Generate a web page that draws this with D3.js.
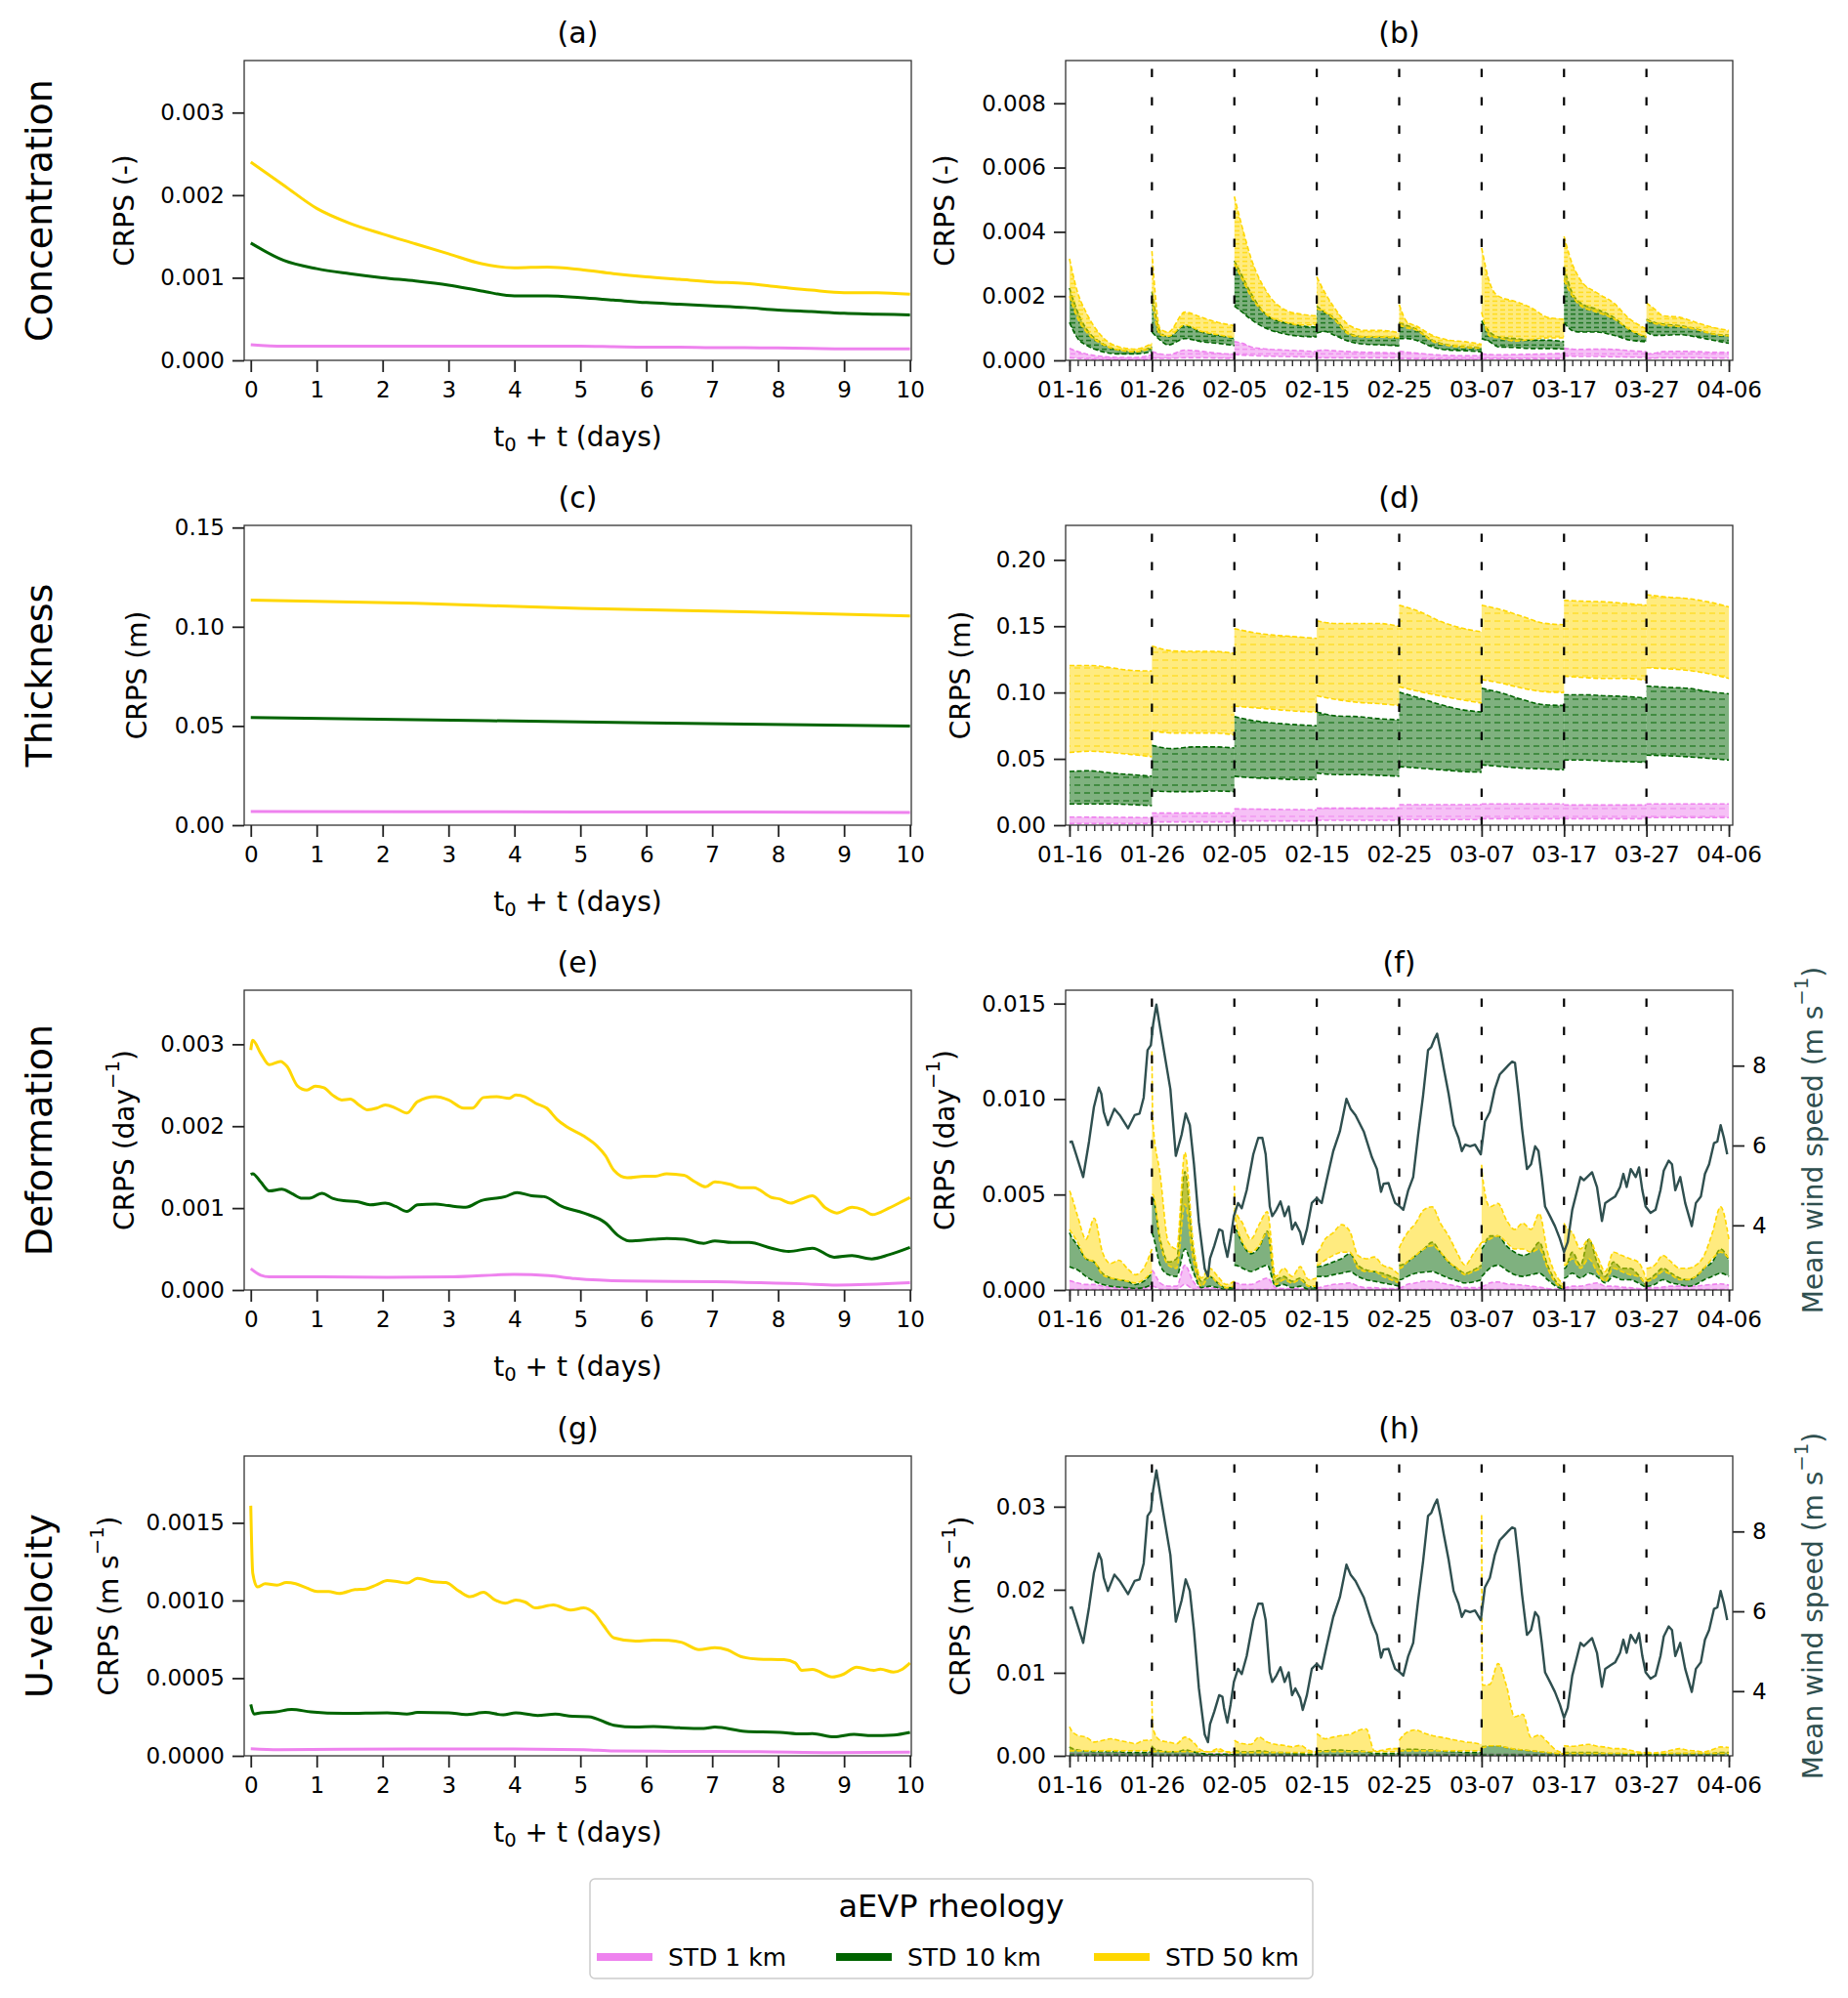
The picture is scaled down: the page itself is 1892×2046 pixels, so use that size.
<!DOCTYPE html>
<html>
<head>
<meta charset="utf-8">
<script src="https://cdn.jsdelivr.net/npm/d3@7"></script>
<style>
  body { margin: 0; background: #fff; }
  text { font-family: "DejaVu Sans", sans-serif; }
</style>
</head>
<body>
<svg id="fig" width="1892" height="2046"></svg>
<script>
// ---------- data ----------
var seriesNames = ["STD 1 km", "STD 10 km", "STD 50 km"];
var dayTicks = [0, 1, 2, 3, 4, 5, 6, 7, 8, 9, 10];
var dateLabels = ["01-16", "01-26", "02-05", "02-15", "02-25", "03-07", "03-17", "03-27", "04-06"];
var dateTickDays = [0, 10, 20, 30, 40, 50, 60, 70, 80];
var windowStarts = [0, 10, 20, 30, 40, 50, 60, 70];
var forecastStarts = [10, 20, 30, 40, 50, 60, 70];

// (a) concentration, mean CRPS vs lead time
var aDays = [0, 0.5, 1, 1.5, 2, 2.5, 3, 3.5, 4, 4.5, 5, 5.5, 6, 6.5, 7, 7.5, 8, 8.5, 9, 9.5, 10];
var aPink = [0.00019, 0.00017, 0.00017, 0.00017, 0.00017, 0.00017, 0.00017, 0.00017, 0.00017, 0.00017, 0.00017,
             0.000165, 0.00016, 0.00016, 0.000155, 0.000155, 0.00015, 0.000145, 0.00014, 0.00014, 0.00014];
var aGreen = [0.00142, 0.00121, 0.00111, 0.00105, 0.001, 0.00096, 0.00091, 0.00084, 0.00078, 0.00078, 0.00076,
              0.00073, 0.0007, 0.00068, 0.00066, 0.00064, 0.00061, 0.00059, 0.00057, 0.00056, 0.00055];
var aYellow = [0.0024, 0.00212, 0.00184, 0.00166, 0.00153, 0.00141, 0.00129, 0.00117, 0.00112, 0.00113, 0.0011,
               0.00105, 0.00101, 0.00098, 0.00095, 0.00093, 0.00089, 0.00085, 0.00082, 0.00082, 0.0008];

// (c) thickness
var cDays = [0, 2.5, 5, 7.5, 10];
var cPink = [0.0069, 0.0068, 0.0067, 0.0066, 0.0064];
var cGreen = [0.0543, 0.0532, 0.052, 0.051, 0.05];
var cYellow = [0.1134, 0.1118, 0.1093, 0.1075, 0.1055];

// (e) deformation
var eYellowT = [0, 0.03, 0.15, 0.28, 0.45, 0.55, 0.71, 0.85, 0.98, 1.11, 1.24, 1.38, 1.51, 1.64, 1.77, 1.91, 2.04, 2.20, 2.37, 2.53,
                2.80, 3.00, 3.23, 3.36, 3.53, 3.73, 3.92, 4.02, 4.16, 4.32, 4.49, 4.65, 4.78, 5.05, 5.25, 5.38, 5.51, 5.71, 5.98, 6.14,
                6.31, 6.57, 6.74, 6.90, 7.04, 7.27, 7.43, 7.63, 7.90, 8.03, 8.19, 8.36, 8.52, 8.72, 8.89, 9.12, 9.29, 9.43, 9.68, 9.88, 10];
var eYellow = [2.93e-3, 3.05e-3, 2.89e-3, 2.75e-3, 2.79e-3, 2.73e-3, 2.49e-3, 2.44e-3, 2.49e-3, 2.47e-3,
               2.38e-3, 2.32e-3, 2.33e-3, 2.26e-3, 2.20e-3, 2.22e-3, 2.26e-3, 2.22e-3, 2.16e-3, 2.30e-3,
               2.36e-3, 2.32e-3, 2.22e-3, 2.22e-3, 2.35e-3, 2.36e-3, 2.34e-3, 2.38e-3, 2.36e-3, 2.28e-3,
               2.22e-3, 2.08e-3, 2.00e-3, 1.88e-3, 1.76e-3, 1.64e-3, 1.46e-3, 1.37e-3, 1.39e-3, 1.39e-3,
               1.42e-3, 1.40e-3, 1.32e-3, 1.26e-3, 1.32e-3, 1.29e-3, 1.25e-3, 1.25e-3, 1.13e-3, 1.11e-3,
               1.06e-3, 1.11e-3, 1.15e-3, 1.00e-3, 0.94e-3, 1.01e-3, 0.98e-3, 0.92e-3, 1.00e-3, 1.08e-3, 1.13e-3];
var eGreenT = [0, 0.03, 0.15, 0.28, 0.47, 0.62, 0.78, 0.89, 1.08, 1.24, 1.41, 1.61, 1.81, 2.04, 2.20, 2.37, 2.53, 2.80, 3.00, 3.26,
               3.49, 3.86, 4.04, 4.26, 4.45, 4.72, 5.05, 5.38, 5.58, 5.74, 6.11, 6.31, 6.57, 6.87, 7.04, 7.30, 7.56, 7.90, 8.16, 8.52,
               8.85, 9.12, 9.42, 9.68, 10];
var eGreen = [1.41e-3, 1.42e-3, 1.32e-3, 1.21e-3, 1.23e-3, 1.18e-3, 1.12e-3, 1.12e-3, 1.18e-3, 1.12e-3,
              1.09e-3, 1.08e-3, 1.04e-3, 1.06e-3, 1.02e-3, 0.96e-3, 1.04e-3, 1.05e-3, 1.03e-3, 1.01e-3,
              1.09e-3, 1.14e-3, 1.19e-3, 1.15e-3, 1.14e-3, 1.02e-3, 0.94e-3, 0.82e-3, 0.66e-3, 0.60e-3,
              0.62e-3, 0.63e-3, 0.62e-3, 0.57e-3, 0.60e-3, 0.58e-3, 0.58e-3, 0.51e-3, 0.47e-3, 0.51e-3,
              0.40e-3, 0.42e-3, 0.38e-3, 0.43e-3, 0.52e-3];
var ePinkT = [0, 0.15, 0.28, 1.08, 2.07, 3.06, 3.99, 4.52, 4.92, 5.71, 7.04, 8.36, 8.89, 10];
var ePink = [0.26e-3, 0.18e-3, 0.16e-3, 0.16e-3, 0.155e-3, 0.16e-3, 0.19e-3, 0.175e-3, 0.14e-3, 0.11e-3, 0.10e-3, 0.076e-3, 0.06e-3, 0.088e-3];

// (g) u-velocity
var gYellowT = [0, 0.03, 0.10, 0.22, 0.40, 0.54, 0.68, 0.85, 1.01, 1.18, 1.34, 1.58, 1.74, 1.91, 2.07, 2.24, 2.37, 2.53, 2.77, 2.96,
                3.16, 3.33, 3.53, 3.69, 3.86, 4.02, 4.16, 4.32, 4.59, 4.85, 5.05, 5.22, 5.35, 5.51, 5.84, 6.11, 6.34, 6.54, 6.80, 7.04,
                7.23, 7.43, 7.70, 8.09, 8.26, 8.36, 8.52, 8.82, 8.99, 9.19, 9.45, 9.55, 9.75, 9.88, 10];
var gYellow = [16.1e-4, 11.75e-4, 10.87e-4, 11.08e-4, 10.99e-4, 11.16e-4, 11.08e-4, 10.8e-4, 10.57e-4, 10.57e-4,
               10.45e-4, 10.7e-4, 10.74e-4, 11.01e-4, 11.29e-4, 11.2e-4, 11.12e-4, 11.43e-4, 11.2e-4, 11.16e-4,
               10.6e-4, 10.24e-4, 10.53e-4, 10.07e-4, 9.82e-4, 10.03e-4, 9.9e-4, 9.52e-4, 9.71e-4, 9.38e-4,
               9.52e-4, 9.13e-4, 8.39e-4, 7.59e-4, 7.38e-4, 7.45e-4, 7.43e-4, 7.3e-4, 6.84e-4, 6.97e-4,
               6.82e-4, 6.4e-4, 6.23e-4, 6.19e-4, 5.98e-4, 5.5e-4, 5.56e-4, 5.08e-4, 5.25e-4, 5.71e-4,
               5.5e-4, 5.58e-4, 5.39e-4, 5.56e-4, 5.98e-4];
var gGreenT = [0, 0.05, 0.15, 0.38, 0.62, 0.91, 1.41, 2.07, 2.37, 2.53, 3.0, 3.26, 3.56, 3.83, 4.02, 4.35, 4.62, 4.88, 5.12, 5.51,
               5.84, 6.11, 6.51, 6.87, 7.04, 7.5, 8.03, 8.36, 8.52, 8.85, 9.15, 9.42, 9.75, 10];
var gGreen = [3.31e-4, 2.69e-4, 2.77e-4, 2.83e-4, 2.98e-4, 2.83e-4, 2.73e-4, 2.77e-4, 2.69e-4, 2.79e-4,
              2.77e-4, 2.66e-4, 2.79e-4, 2.64e-4, 2.77e-4, 2.6e-4, 2.69e-4, 2.54e-4, 2.52e-4, 1.97e-4,
              1.85e-4, 1.89e-4, 1.8e-4, 1.76e-4, 1.85e-4, 1.57e-4, 1.51e-4, 1.41e-4, 1.43e-4, 1.22e-4,
              1.38e-4, 1.3e-4, 1.34e-4, 1.51e-4];
var gPinkT = [0, 0.42, 2.40, 3.99, 5.05, 5.51, 6.37, 7.70, 8.82, 10];
var gPink = [0.46e-4, 0.40e-4, 0.44e-4, 0.44e-4, 0.40e-4, 0.31e-4, 0.29e-4, 0.27e-4, 0.21e-4, 0.23e-4];

// (b) concentration per forecast window: envelopes of the ensemble of forecasts
var bOffsets = [0, 1, 2, 4, 6, 8, 10];
var bPinkHi = [[0.00037, 0.00027, 0.0002, 0.00012, 0.00009, 0.00009, 0.00017],
               [0.00027, 0.0002, 0.00017, 0.00032, 0.00028, 0.00022, 0.00019],
               [0.00058, 0.00053, 0.00042, 0.00035, 0.00032, 0.0003, 0.00027],
               [0.0003, 0.00032, 0.0003, 0.00027, 0.00025, 0.00024, 0.00022],
               [0.00028, 0.00025, 0.00023, 0.00018, 0.00015, 0.00014, 0.00015],
               [0.0002, 0.00018, 0.00017, 0.00018, 0.00019, 0.0002, 0.00022],
               [0.00038, 0.00035, 0.00034, 0.00035, 0.00034, 0.0003, 0.00027],
               [0.0002, 0.00022, 0.00027, 0.00028, 0.00027, 0.00025, 0.00025]];
var bPinkLo = [[0.00008, 0.00006, 0.00004, 0.00003, 0.00002, 0.00002, 0.00004],
               [0.00008, 0.00006, 0.00006, 0.00008, 0.00008, 0.00007, 0.00006],
               [0.00018, 0.00016, 0.00015, 0.00013, 0.00012, 0.00011, 0.0001],
               0.00008,
               [0.00006, 0.00005, 0.00004, 0.00004, 0.00003, 0.00003, 0.00003],
               0.00005,
               [0.00014, 0.00013, 0.00012, 0.00012, 0.00011, 0.0001, 0.00009],
               [0.00006, 0.00007, 0.00008, 0.00008, 0.00008, 0.00007, 0.00007]];
var bGreenHi = [[0.00225, 0.0015, 0.001, 0.00053, 0.00032, 0.00027, 0.00042],
                [0.00214, 0.00088, 0.00073, 0.00108, 0.00088, 0.00078, 0.00068],
                [0.0031, 0.0026, 0.0021, 0.00139, 0.00118, 0.00108, 0.00103],
                [0.00169, 0.00149, 0.00134, 0.00083, 0.00073, 0.00073, 0.00068],
                [0.00118, 0.00108, 0.00098, 0.00063, 0.00048, 0.00042, 0.0004],
                [0.00123, 0.00088, 0.00073, 0.00068, 0.00063, 0.00063, 0.00058],
                [0.0029, 0.0021, 0.00179, 0.00159, 0.00134, 0.00093, 0.00073],
                [0.00128, 0.00118, 0.00113, 0.00108, 0.00098, 0.00083, 0.00078]];
var bGreenLo = [[0.00118, 0.00068, 0.00048, 0.00027, 0.0002, 0.0002, 0.00027],
                [0.00088, 0.00063, 0.00048, 0.00068, 0.00058, 0.00053, 0.00046],
                [0.00169, 0.00149, 0.00128, 0.00098, 0.00083, 0.00075, 0.00073],
                [0.00085, 0.0009, 0.0008, 0.00058, 0.0005, 0.00048, 0.00045],
                [0.00068, 0.00068, 0.00063, 0.00042, 0.00032, 0.0003, 0.00027],
                [0.00068, 0.00058, 0.00042, 0.0004, 0.00037, 0.00037, 0.00035],
                [0.00118, 0.00093, 0.00088, 0.00088, 0.00078, 0.00063, 0.00058],
                [0.00088, 0.00078, 0.00078, 0.0008, 0.00073, 0.00063, 0.00053]];
var bYellowHi = [[0.00316, 0.0021, 0.0015, 0.00073, 0.00042, 0.00035, 0.00053],
                 [0.0034, 0.00098, 0.00088, 0.0015, 0.00134, 0.00118, 0.00108],
                 [0.0051, 0.0041, 0.0032, 0.0021, 0.00159, 0.00144, 0.00139],
                 [0.0026, 0.0021, 0.00169, 0.00108, 0.00093, 0.00093, 0.00086],
                 [0.00174, 0.00118, 0.00108, 0.00078, 0.00063, 0.00058, 0.0005],
                 [0.0035, 0.0024, 0.002, 0.00184, 0.00164, 0.00134, 0.00128],
                 [0.00386, 0.003, 0.0025, 0.0021, 0.00179, 0.00128, 0.00098],
                 [0.00179, 0.00159, 0.00139, 0.00134, 0.00118, 0.00103, 0.00093]];
var bYellowLo = [[0.002, 0.0013, 0.0009, 0.0005, 0.00032, 0.00027, 0.00038],
                 [0.0019, 0.0008, 0.00075, 0.0011, 0.0009, 0.0008, 0.0007],
                 [0.003, 0.0025, 0.002, 0.0014, 0.0012, 0.0011, 0.0011],
                 [0.0016, 0.0015, 0.0013, 0.0008, 0.00072, 0.00072, 0.0007],
                 [0.0011, 0.001, 0.00095, 0.0006, 0.00046, 0.0004, 0.00038],
                 [0.0015, 0.00075, 0.0007, 0.0006, 0.00065, 0.0007, 0.0007],
                 [0.0025, 0.002, 0.0017, 0.0015, 0.0013, 0.00095, 0.00072],
                 [0.00125, 0.00115, 0.0011, 0.00105, 0.00096, 0.00082, 0.00076]];

// (d) thickness per forecast window
var dOffsets = [0, 2.5, 5, 7.5, 10];
var dPinkHi = [[0.0061, 0.006, 0.0059, 0.0058, 0.0057], 0.0091, [0.0123, 0.0121, 0.0119, 0.0117, 0.0115],
               0.0128, 0.0155, 0.016, 0.0152, 0.016];
var dPinkLo = [0.0012, 0.0025, 0.0032, 0.0037, 0.0042, 0.0049, 0.0049, 0.0057];
var dGreenHi = [[0.0405, 0.041, 0.0393, 0.0381, 0.0369],
                [0.0602, 0.0577, 0.059, 0.059, 0.0582],
                [0.0818, 0.0786, 0.0769, 0.0757, 0.0749],
                [0.0853, 0.0823, 0.0818, 0.0803, 0.0794],
                [0.1002, 0.0958, 0.0909, 0.0872, 0.0853],
                [0.1032, 0.0995, 0.0946, 0.0909, 0.0902],
                [0.0983, 0.0983, 0.0975, 0.097, 0.0958],
                [0.1049, 0.1039, 0.1032, 0.1007, 0.099]];
var dGreenLo = [[0.016, 0.016, 0.016, 0.0155, 0.0147],
                [0.0258, 0.0253, 0.0253, 0.0258, 0.0253],
                [0.0369, 0.0356, 0.0351, 0.0344, 0.0344],
                [0.0393, 0.0381, 0.0381, 0.0376, 0.0369],
                [0.0442, 0.043, 0.0418, 0.0405, 0.04],
                [0.0455, 0.0442, 0.043, 0.0425, 0.0418],
                [0.0491, 0.0491, 0.0484, 0.0479, 0.0474],
                [0.0528, 0.0523, 0.0516, 0.0504, 0.0491]];
var dYellowHi = [[0.1204, 0.1204, 0.1187, 0.1167, 0.1162],
                 [0.1351, 0.1314, 0.131, 0.131, 0.1295],
                 [0.1482, 0.145, 0.1432, 0.142, 0.1408],
                 [0.154, 0.152, 0.152, 0.152, 0.1499],
                 [0.1658, 0.1609, 0.1536, 0.1487, 0.1457],
                 [0.1658, 0.1622, 0.1572, 0.1523, 0.1511],
                 [0.1695, 0.1688, 0.1683, 0.1671, 0.1658],
                 [0.1737, 0.172, 0.1708, 0.1683, 0.1646]];
var dYellowLo = [[0.0548, 0.0558, 0.0548, 0.0533, 0.0516],
                 [0.0713, 0.0695, 0.0695, 0.0695, 0.068],
                 [0.0897, 0.0885, 0.0872, 0.086, 0.0853],
                 [0.0975, 0.0946, 0.0926, 0.0916, 0.0902],
                 [0.1044, 0.1007, 0.0975, 0.0946, 0.0921],
                 [0.1098, 0.1069, 0.1032, 0.1007, 0.1],
                 [0.1123, 0.1113, 0.1106, 0.1106, 0.1093],
                 [0.1187, 0.1179, 0.1167, 0.1143, 0.1106]];

// (f) deformation per forecast window
var fOffsets = [0, 0.1, 1, 2, 3, 4, 5, 6, 7, 8, 9, 10];
var fPinkHi = [[0.00049, 0.00048, 0.00037, 0.00029, 0.00029, 0.0002, 0.00015, 0.00012, 0.00012, 0.00008, 0.00012, 0.0002],
               [0.00105, 0.001, 0.00037, 0.0002, 0.0002, 0.0013, 0.00046, 0.00008, 0.00012, 0.00008, 0.00003, 0.00003],
               [0.00037, 0.00037, 0.00029, 0.00029, 0.00046, 0.00063, 0.00012, 0.00008, 0.00008, 0.00008, 0.00003, 0.00003],
               [0.00012, 0.00012, 0.0002, 0.00029, 0.00032, 0.00037, 0.0002, 0.00012, 0.00012, 0.00008, 0.00008, 0.00008],
               [0.00012, 0.00012, 0.00029, 0.00037, 0.00046, 0.00046, 0.00037, 0.00029, 0.0002, 0.00012, 0.00012, 0.00012],
               [0.0002, 0.0002, 0.00037, 0.00042, 0.00032, 0.00029, 0.00025, 0.0002, 0.00015, 0.00008, 0.00003, 0.00003],
               [0.00012, 0.00012, 0.0002, 0.0002, 0.00029, 0.00037, 0.0002, 0.0002, 0.00015, 0.00012, 0.00008, 0.00003],
               [0.00012, 0.00012, 0.00012, 0.00015, 0.0002, 0.0002, 0.0002, 0.0002, 0.00025, 0.00029, 0.00032, 0.00025]];
var fPinkLo = [0.00003,
               [0.0002, 0.0002, 0.00005, 0.00003, 0.00003, 0.0003, 0.00005, 0.00002, 0.00002, 0.00002, 0.00002, 0.00002],
               0.00003, 0.00003, 0.00003, 0.00003, 0.00003, 0.00003];
var fGreenHi = [[0.003, 0.0029, 0.00232, 0.00164, 0.00147, 0.00088, 0.00063, 0.00054, 0.00046, 0.00029, 0.00046, 0.00088],
                [0.0048, 0.0048, 0.00266, 0.00147, 0.00164, 0.0062, 0.00215, 0.00046, 0.00071, 0.00037, 0.00012, 0.00012],
                [0.00317, 0.00317, 0.0024, 0.0019, 0.00224, 0.00308, 0.00054, 0.00071, 0.00046, 0.00063, 0.0002, 0.00012],
                [0.00122, 0.00122, 0.0013, 0.00147, 0.00164, 0.0019, 0.0013, 0.00105, 0.00097, 0.00088, 0.00071, 0.00054],
                [0.0013, 0.0013, 0.00147, 0.00181, 0.00215, 0.0025, 0.00198, 0.00147, 0.00114, 0.00088, 0.00105, 0.0013],
                [0.00215, 0.0022, 0.00283, 0.00283, 0.00232, 0.00198, 0.00181, 0.00198, 0.0025, 0.0013, 0.00046, 0.00012],
                [0.00114, 0.00114, 0.00198, 0.0013, 0.00266, 0.00147, 0.00071, 0.00147, 0.00114, 0.00114, 0.0008, 0.0002],
                [0.00054, 0.00054, 0.0008, 0.00114, 0.00088, 0.00063, 0.00054, 0.00071, 0.00114, 0.00147, 0.00215, 0.00156]];
var fGreenLo = [[0.00122, 0.0012, 0.00105, 0.00071, 0.00046, 0.00029, 0.0002, 0.00015, 0.00012, 0.00008, 0.00012, 0.00029],
                [0.003, 0.0029, 0.0013, 0.0008, 0.00071, 0.00215, 0.00097, 0.00012, 0.0002, 0.00012, 0.00003, 0.00003],
                [0.0013, 0.0013, 0.00114, 0.00097, 0.00114, 0.0013, 0.0002, 0.00029, 0.00012, 0.0002, 0.00003, 0.00003],
                [0.00071, 0.00071, 0.00071, 0.0008, 0.00088, 0.00097, 0.00071, 0.00054, 0.00046, 0.00037, 0.00029, 0.0002],
                [0.00054, 0.00054, 0.00071, 0.00088, 0.00093, 0.00097, 0.0008, 0.00063, 0.00049, 0.00037, 0.00042, 0.00054],
                [0.00071, 0.00075, 0.00114, 0.0013, 0.00105, 0.0008, 0.00071, 0.0008, 0.00088, 0.00054, 0.0002, 0.00003],
                [0.00063, 0.00063, 0.00088, 0.00063, 0.00088, 0.00071, 0.00037, 0.00071, 0.00054, 0.00054, 0.00037, 0.00012],
                [0.0002, 0.0002, 0.00029, 0.00054, 0.00037, 0.00029, 0.0002, 0.00029, 0.00054, 0.00071, 0.00088, 0.00071]];
var fYellowHi = [[0.0052, 0.0051, 0.00385, 0.00266, 0.00376, 0.00198, 0.00139, 0.00156, 0.00114, 0.0008, 0.00114, 0.00215],
                 [0.0125, 0.0089, 0.00605, 0.00249, 0.00215, 0.0072, 0.00249, 0.00063, 0.00114, 0.00071, 0.00029, 0.00046],
                 [0.00546, 0.0042, 0.0035, 0.00266, 0.00342, 0.0041, 0.00071, 0.00114, 0.00071, 0.00122, 0.00054, 0.00063],
                 [0.00198, 0.002, 0.00266, 0.003, 0.00342, 0.00308, 0.00181, 0.00164, 0.00173, 0.0013, 0.00114, 0.0008],
                 [0.0022, 0.0023, 0.003, 0.0035, 0.0042, 0.00436, 0.0035, 0.00283, 0.00198, 0.0013, 0.0019, 0.0025],
                 [0.00656, 0.006, 0.00436, 0.00453, 0.00368, 0.00317, 0.0035, 0.00317, 0.004, 0.00198, 0.0008, 0.00029],
                 [0.0035, 0.0034, 0.003, 0.00215, 0.00266, 0.00181, 0.00097, 0.00198, 0.00181, 0.00164, 0.00147, 0.00054],
                 [0.00114, 0.00114, 0.0013, 0.00181, 0.00147, 0.00114, 0.00114, 0.0013, 0.00181, 0.003, 0.00436, 0.00266]];
var fYellowLo = [[0.00317, 0.0031, 0.00249, 0.00164, 0.00147, 0.0008, 0.00063, 0.00054, 0.00046, 0.00037, 0.00054, 0.00097],
                 [0.005, 0.005, 0.0025, 0.0013, 0.00114, 0.0045, 0.00164, 0.0002, 0.00071, 0.00037, 0.00012, 0.0002],
                 [0.0042, 0.0038, 0.0025, 0.00198, 0.00232, 0.003, 0.00029, 0.00054, 0.00037, 0.00054, 0.0002, 0.0002],
                 [0.0013, 0.0013, 0.00156, 0.00181, 0.00198, 0.00198, 0.00114, 0.00097, 0.00097, 0.00071, 0.00054, 0.00037],
                 [0.00114, 0.00114, 0.00147, 0.00181, 0.00215, 0.00232, 0.00198, 0.00147, 0.00114, 0.0008, 0.00097, 0.00114],
                 [0.0025, 0.0025, 0.00266, 0.00283, 0.0025, 0.00215, 0.00215, 0.00198, 0.00215, 0.00114, 0.00037, 0.00012],
                 [0.0013, 0.0013, 0.00164, 0.00114, 0.00164, 0.00097, 0.00046, 0.00114, 0.00097, 0.0008, 0.00071, 0.0002],
                 [0.00046, 0.00046, 0.00063, 0.00097, 0.0008, 0.00054, 0.00054, 0.00071, 0.00114, 0.00164, 0.00198, 0.00164]];

// (h) u-velocity per forecast window
var hOffsets = [0, 0.1, 1, 2, 3, 4, 5, 6, 7, 8, 9, 10];
var hPinkHi = [0.00025, 0.0002, 0.00015, 0.00015, 0.0002, 0.0002, 0.00012, 0.0001];
var hPinkLo = [0.00002, 0.00002, 0.00002, 0.00002, 0.00002, 0.00002, 0.00002, 0.00002];
var hGreenHi = [[0.0011, 0.001, 0.0007, 0.0006, 0.0005, 0.0005, 0.0005, 0.0005, 0.0004, 0.0004, 0.0004, 0.0005],
                [0.0012, 0.001, 0.0006, 0.0005, 0.0005, 0.0007, 0.0005, 0.0003, 0.0002, 0.0002, 0.0002, 0.0001],
                [0.0006, 0.0006, 0.0005, 0.0005, 0.0006, 0.0005, 0.0004, 0.0004, 0.0003, 0.0003, 0.0002, 0.0002],
                [0.0006, 0.0006, 0.0006, 0.0007, 0.0007, 0.0006, 0.0006, 0.0005, 0.0003, 0.0003, 0.0003, 0.0003],
                [0.0006, 0.0006, 0.0008, 0.0008, 0.0007, 0.0007, 0.0006, 0.0005, 0.0005, 0.0004, 0.0004, 0.0004],
                [0.0011, 0.0011, 0.0012, 0.0012, 0.001, 0.0008, 0.0007, 0.0006, 0.0005, 0.0004, 0.0003, 0.0002],
                [0.0004, 0.0004, 0.0004, 0.0004, 0.0004, 0.0004, 0.0003, 0.0003, 0.0003, 0.0002, 0.0002, 0.0002],
                [0.0002, 0.0002, 0.0002, 0.0002, 0.0003, 0.0003, 0.0003, 0.0003, 0.0003, 0.0003, 0.0004, 0.0004]];
var hGreenLo = [0.00008, 0.00008, 0.00008, 0.00008, 0.00008, 0.00008, 0.00008, 0.00008];
var hYellowHi = [[0.0035, 0.0033, 0.00245, 0.00225, 0.00166, 0.00186, 0.00205, 0.00186, 0.00166, 0.00146, 0.00186, 0.0019],
                 [0.0066, 0.0034, 0.00186, 0.00166, 0.00146, 0.00225, 0.00166, 0.00067, 0.00047, 0.00087, 0.00047, 0.00028],
                 [0.00186, 0.0018, 0.00146, 0.00138, 0.00225, 0.00166, 0.00138, 0.00126, 0.00107, 0.00126, 0.00067, 0.00047],
                 [0.00265, 0.0026, 0.00205, 0.00225, 0.00245, 0.00257, 0.00304, 0.00324, 0.00059, 0.00067, 0.00087, 0.00087],
                 [0.00186, 0.002, 0.00285, 0.00312, 0.00273, 0.00245, 0.00225, 0.00205, 0.00186, 0.00166, 0.00158, 0.00138],
                 [0.029, 0.0085, 0.0086, 0.0111, 0.0085, 0.0047, 0.005, 0.0022, 0.0025, 0.00166, 0.0007, 0.0003],
                 [0.00126, 0.0012, 0.00115, 0.00126, 0.00138, 0.00115, 0.00107, 0.00087, 0.00087, 0.00067, 0.00047, 0.00036],
                 [0.00047, 0.00045, 0.00036, 0.00047, 0.00067, 0.00087, 0.00067, 0.00059, 0.00047, 0.00075, 0.00107, 0.001]];
var hYellowLo = [0.0006, 0.0005, 0.0004, 0.0005, 0.0006,
                 [0.001, 0.001, 0.0012, 0.0012, 0.001, 0.0008, 0.0007, 0.0006, 0.0005, 0.0004, 0.0003, 0.0002],
                 0.0003, 0.0003];

// mean wind speed (m/s), shared by (f) and (h)
var windDay = [0, 0.3, 0.8, 1.66, 2.37, 2.96, 3.55, 3.87, 4.15, 4.66,
               5.45, 6.1, 7.1, 7.9, 8.5, 9.0, 9.47, 9.87, 10.15, 10.54,
               11.05, 11.64, 12.24, 12.9, 13.6, 14.1, 14.6, 15.1, 15.7, 16.4,
               16.8, 17.05, 17.57, 18.16, 18.55, 18.75, 19.15, 19.54, 19.94, 20.45,
               20.9, 21.5, 22.3, 22.9, 23.4, 23.8, 24.3, 24.6, 25.1, 25.6,
               26.1, 26.6, 27.0, 27.4, 28.0, 28.3, 28.8, 29.4, 30.0, 30.6,
               31.2, 32.0, 32.8, 33.6, 34.1, 34.7, 35.7, 36.7, 37.3, 37.8,
               38.1, 38.7, 39.1, 39.5, 40.1, 40.5, 41.1, 41.7, 42.3, 42.9,
               43.5, 43.9, 44.3, 44.6, 45.05, 45.4, 46.0, 46.6, 47.2, 47.6,
               48.0, 48.6, 49.2, 49.9, 50.4, 51.0, 51.6, 52.2, 52.75, 53.3,
               53.7, 54.05, 54.5, 54.9, 55.5, 56.0, 56.5, 56.9, 57.3, 57.7,
               58.3, 58.9, 59.5, 60.0, 60.45, 61.0, 61.6, 62.0, 62.4, 62.8,
               63.4, 64.0, 64.6, 65.0, 65.6, 66.2, 66.8, 67.2, 67.6, 68.1,
               68.7, 69.1, 69.5, 69.9, 70.5, 71.1, 71.7, 72.1, 72.7, 73.1,
               73.5, 74.1, 74.7, 75.5, 76.0, 76.6, 77.1, 77.6, 78.2, 78.6,
               79.0, 79.4, 79.8];
var windSpeed = [6.08, 6.1, 5.78, 5.21, 6.1, 6.96, 7.45, 7.29, 6.84, 6.51,
                 6.92, 6.76, 6.43, 6.76, 6.8, 7.2, 8.39, 8.51, 9.04, 9.53,
                 8.88, 8.15, 7.41, 5.74, 6.27, 6.8, 6.51, 5.53, 4.07, 2.92,
                 2.72, 3.17, 3.49, 3.9, 3.86, 3.58, 3.21, 3.66, 4.23, 4.56,
                 4.43, 4.88, 5.78, 6.19, 6.19, 5.78, 4.47, 4.23, 4.39, 4.6,
                 4.23, 4.47, 3.9, 4.07, 3.82, 3.53, 3.9, 4.56, 4.68, 4.56,
                 5.13, 5.86, 6.35, 7.17, 6.92, 6.76, 6.35, 5.7, 5.41, 4.84,
                 5.04, 5.06, 4.8, 4.56, 4.47, 4.39, 4.88, 5.21, 6.27, 7.25,
                 8.39, 8.47, 8.68, 8.8, 8.35, 7.94, 7.29, 6.51, 6.19, 5.86,
                 6.02, 5.98, 6.02, 5.78, 6.6, 6.84, 7.41, 7.78, 7.9, 8.02,
                 8.1, 8.07, 7.25, 6.43, 5.41, 5.53, 5.98, 5.86, 5.21, 4.47,
                 4.23, 3.98, 3.66, 3.33, 3.58, 4.39, 4.88, 5.21, 5.13, 5.21,
                 5.33, 4.96, 4.11, 4.56, 4.64, 4.72, 4.96, 5.29, 4.96, 5.41,
                 5.21, 5.45, 4.88, 4.47, 4.31, 4.39, 4.88, 5.37, 5.62, 5.53,
                 4.88, 5.21, 4.56, 3.98, 4.56, 4.72, 5.29, 5.53, 6.06, 6.1,
                 6.51, 6.19, 5.78];

// ---------- layout ----------
var colors = ["#ee82ee", "#006400", "#ffd700"];
var windColor = "#2f4f4f";
var leftX0 = 250, leftX1 = 933, rightX0 = 1091, rightX1 = 1774;
var rowTop = [62, 538, 1014, 1491], panelH = 307;
var tickFont = 23, labelFont = 28, titleFont = 30;

var svg = d3.select("#fig");
svg.append("rect").attr("width", 1892).attr("height", 2046).attr("fill", "#fff");

// short dashes that stand in for the many dashed ensemble-member lines
var defs = svg.append("defs");
var texStyles = {
    dense: { w: 8, h: 4.5, dash: 5, sw: 1.3, op: 0.95 },
    sparse: { w: 10, h: 8, dash: 6, sw: 1.2, op: 0.8 }
};
Object.keys(texStyles).forEach(function(k) {
    var s = texStyles[k];
    colors.forEach(function(c, i) {
        var p = defs.append("pattern").attr("id", "tex-" + k + i)
            .attr("patternUnits", "userSpaceOnUse").attr("width", s.w).attr("height", s.h);
        p.append("line").attr("x1", 0).attr("x2", s.dash).attr("y1", s.h / 2).attr("y2", s.h / 2)
            .attr("stroke", c).attr("stroke-width", s.sw).attr("opacity", s.op);
    });
});

function at(v, i) { return Array.isArray(v) ? v[i] : v; }

// text with optional sub/superscript pieces
function richText(g, x, y, parts, size, rotate, fill) {
    var t = g.append("text")
        .attr("font-size", size)
        .attr("text-anchor", "middle")
        .attr("dominant-baseline", "central")
        .attr("fill", fill || "#000")
        .attr("transform", "translate(" + x + "," + y + ")" + (rotate ? " rotate(-90)" : ""));
    var shift = 0;
    parts.forEach(function(p) {
        var s = t.append("tspan").text(p[0]);
        var target = p[1] === "sup" ? -0.42 * size : (p[1] === "sub" ? 0.3 * size : 0);
        if (p[1]) s.attr("font-size", size * 0.7);
        if (target !== shift) { s.attr("dy", target - shift); shift = target; }
    });
    return t;
}

function styleAxis(a) {
    a.select(".domain").remove();
    a.attr("font-family", "DejaVu Sans").attr("font-size", tickFont);
    a.selectAll(".tick line").attr("stroke", "#222").attr("stroke-width", 1.8);
    a.selectAll(".tick text").attr("fill", "#000");
}

function frame(g, x0, x1, top) {
    g.append("rect").attr("x", x0).attr("y", top).attr("width", x1 - x0).attr("height", panelH)
        .attr("fill", "none").attr("stroke", "#333").attr("stroke-width", 1.3);
}

function yAxisLeft(g, x0, y, ticks, fmt) {
    var a = g.append("g").attr("transform", "translate(" + x0 + ",0)")
        .call(d3.axisLeft(y).tickValues(ticks).tickFormat(d3.format(fmt)).tickSize(12).tickPadding(8));
    styleAxis(a);
}

function leftPanel(row, title, yMax, ticks, fmt, ylab, ylabX, lines) {
    var top = rowTop[row], bottom = top + panelH;
    var x = d3.scaleLinear().domain([-0.1, 10.02]).range([leftX0, leftX1]);
    var y = d3.scaleLinear().domain([0, yMax]).range([bottom, top]);
    var g = svg.append("g");
    var line = d3.line().x(function(d) { return x(d[0]); }).y(function(d) { return y(d[1]); })
        .curve(d3.curveMonotoneX);
    lines.forEach(function(s) {
        var pts = s.t.map(function(t, i) { return [t, s.v[i]]; });
        g.append("path").attr("d", line(pts)).attr("fill", "none")
            .attr("stroke", s.color).attr("stroke-width", 3).attr("stroke-linejoin", "round");
    });
    frame(g, leftX0, leftX1, top);
    var xa = g.append("g").attr("transform", "translate(0," + bottom + ")")
        .call(d3.axisBottom(x).tickValues(dayTicks).tickFormat(d3.format("d")).tickSize(12).tickPadding(10));
    styleAxis(xa);
    yAxisLeft(g, leftX0, y, ticks, fmt);
    richText(g, (leftX0 + leftX1) / 2, top - 29, [[title]], titleFont);
    richText(g, (leftX0 + leftX1) / 2, top + 385, [["t"], ["0", "sub"], [" + t (days)"]], labelFont);
    richText(g, ylabX, top + panelH / 2, ylab, labelFont, true);
}

function rightPanel(row, title, yMax, ticks, fmt, ylab, ylabX, offsets, bands, texture, withWind) {
    var top = rowTop[row], bottom = top + panelH;
    var x = d3.scaleLinear().domain([-0.47, 80.47]).range([rightX0, rightX1]);
    var y = d3.scaleLinear().domain([0, yMax]).range([bottom, top]);
    var g = svg.append("g");
    var clipId = "clip" + row;
    defs.append("clipPath").attr("id", clipId).append("rect")
        .attr("x", rightX0).attr("y", top).attr("width", rightX1 - rightX0).attr("height", panelH);
    var plot = g.append("g").attr("clip-path", "url(#" + clipId + ")");

    var area = d3.area().x(function(d) { return x(d.day); })
        .y0(function(d) { return y(d.lo); }).y1(function(d) { return y(d.hi); })
        .curve(d3.curveMonotoneX);
    var hiLine = d3.line().x(function(d) { return x(d.day); }).y(function(d) { return y(d.hi); }).curve(d3.curveMonotoneX);
    var loLine = d3.line().x(function(d) { return x(d.day); }).y(function(d) { return y(d.lo); }).curve(d3.curveMonotoneX);

    bands.forEach(function(b) {
        windowStarts.forEach(function(start, w) {
            var pts = offsets.map(function(o, i) {
                return { day: start + o, hi: at(b.hi[w], i), lo: at(b.lo[w], i) };
            });
            plot.append("path").attr("d", area(pts)).attr("fill", colors[b.ci]).attr("fill-opacity", 0.5);
            if (texture) {
                plot.append("path").attr("d", area(pts)).attr("fill", "url(#tex-" + texture + b.ci + ")");
            }
            [hiLine, loLine].forEach(function(fn) {
                plot.append("path").attr("d", fn(pts)).attr("fill", "none")
                    .attr("stroke", colors[b.ci]).attr("stroke-width", 1.6)
                    .attr("stroke-dasharray", "5,2.5");
            });
        });
    });

    // forecast start separators
    forecastStarts.forEach(function(d) {
        plot.append("line").attr("x1", x(d)).attr("x2", x(d)).attr("y1", bottom).attr("y2", top)
            .attr("stroke", "#000").attr("stroke-width", 2.2).attr("stroke-dasharray", "8.5,20.5");
    });

    if (withWind) {
        var yw = d3.scaleLinear().domain([2.38, 9.89]).range([bottom, top]);
        var pts = windDay.map(function(d, i) { return [d, windSpeed[i]]; });
        plot.append("path")
            .attr("d", d3.line().x(function(d) { return x(d[0]); }).y(function(d) { return yw(d[1]); })(pts))
            .attr("fill", "none").attr("stroke", windColor).attr("stroke-width", 2.4)
            .attr("stroke-linejoin", "round");
        var ra = g.append("g").attr("transform", "translate(" + rightX1 + ",0)")
            .call(d3.axisRight(yw).tickValues([4, 6, 8]).tickFormat(d3.format("d")).tickSize(12).tickPadding(8));
        styleAxis(ra);
        richText(g, 1856, top + panelH / 2, [["Mean wind speed (m s"], ["\u22121", "sup"], [")"]], labelFont, true, windColor);
    }

    frame(g, rightX0, rightX1, top);
    var minor = g.append("g").attr("transform", "translate(0," + bottom + ")")
        .call(d3.axisBottom(x).tickValues(d3.range(0, 81)).tickFormat("").tickSize(6));
    minor.select(".domain").remove();
    minor.selectAll(".tick line").attr("stroke", "#222").attr("stroke-width", 1.3);
    var xa = g.append("g").attr("transform", "translate(0," + bottom + ")")
        .call(d3.axisBottom(x).tickValues(dateTickDays)
            .tickFormat(function(d, i) { return dateLabels[i]; }).tickSize(12).tickPadding(10));
    styleAxis(xa);
    yAxisLeft(g, rightX0, y, ticks, fmt);
    richText(g, (rightX0 + rightX1) / 2, top - 29, [[title]], titleFont);
    richText(g, ylabX, top + panelH / 2, ylab, labelFont, true);
}

// ---------- panels ----------
leftPanel(0, "(a)", 0.00363, [0, 0.001, 0.002, 0.003], ".3f", [["CRPS (-)"]], 127, [
    { t: aDays, v: aPink, color: colors[0] },
    { t: aDays, v: aGreen, color: colors[1] },
    { t: aDays, v: aYellow, color: colors[2] }]);
rightPanel(0, "(b)", 0.00933, [0, 0.002, 0.004, 0.006, 0.008], ".3f", [["CRPS (-)"]], 967, bOffsets, [
    { ci: 0, hi: bPinkHi, lo: bPinkLo },
    { ci: 1, hi: bGreenHi, lo: bGreenLo },
    { ci: 2, hi: bYellowHi, lo: bYellowLo }], "dense", false);

leftPanel(1, "(c)", 0.1511, [0, 0.05, 0.10, 0.15], ".2f", [["CRPS (m)"]], 140, [
    { t: cDays, v: cPink, color: colors[0] },
    { t: cDays, v: cGreen, color: colors[1] },
    { t: cDays, v: cYellow, color: colors[2] }]);
rightPanel(1, "(d)", 0.226, [0, 0.05, 0.10, 0.15, 0.20], ".2f", [["CRPS (m)"]], 983, dOffsets, [
    { ci: 0, hi: dPinkHi, lo: dPinkLo },
    { ci: 1, hi: dGreenHi, lo: dGreenLo },
    { ci: 2, hi: dYellowHi, lo: dYellowLo }], "sparse", false);

leftPanel(2, "(e)", 0.00366, [0, 0.001, 0.002, 0.003], ".3f", [["CRPS (day"], ["\u22121", "sup"], [")"]], 127, [
    { t: ePinkT, v: ePink, color: colors[0] },
    { t: eGreenT, v: eGreen, color: colors[1] },
    { t: eYellowT, v: eYellow, color: colors[2] }]);
rightPanel(2, "(f)", 0.0157, [0, 0.005, 0.010, 0.015], ".3f", [["CRPS (day"], ["\u22121", "sup"], [")"]], 967, fOffsets, [
    { ci: 0, hi: fPinkHi, lo: fPinkLo },
    { ci: 1, hi: fGreenHi, lo: fGreenLo },
    { ci: 2, hi: fYellowHi, lo: fYellowLo }], null, true);

leftPanel(3, "(g)", 0.00193, [0, 0.0005, 0.0010, 0.0015], ".4f", [["CRPS (m s"], ["\u22121", "sup"], [")"]], 111, [
    { t: gPinkT, v: gPink, color: colors[0] },
    { t: gGreenT, v: gGreen, color: colors[1] },
    { t: gYellowT, v: gYellow, color: colors[2] }]);
rightPanel(3, "(h)", 0.0361, [0, 0.01, 0.02, 0.03], ".2f", [["CRPS (m s"], ["\u22121", "sup"], [")"]], 983, hOffsets, [
    { ci: 0, hi: hPinkHi, lo: hPinkLo },
    { ci: 1, hi: hGreenHi, lo: hGreenLo },
    { ci: 2, hi: hYellowHi, lo: hYellowLo }], null, true);

// row labels
["Concentration", "Thickness", "Deformation", "U-velocity"].forEach(function(lbl, r) {
    richText(svg, 40, rowTop[r] + panelH / 2, [[lbl]], 38, true);
});

// ---------- legend ----------
var lg = svg.append("g");
lg.append("rect").attr("x", 604).attr("y", 1924).attr("width", 740).attr("height", 102).attr("rx", 5)
    .attr("fill", "#fff").attr("stroke", "#cccccc").attr("stroke-width", 1.5);
richText(lg, 974, 1952, [["aEVP rheology"]], 32);
var handleX = [611, 856, 1120];
seriesNames.forEach(function(name, i) {
    lg.append("line").attr("x1", handleX[i]).attr("x2", handleX[i] + 57).attr("y1", 2004).attr("y2", 2004)
        .attr("stroke", colors[i]).attr("stroke-width", 8);
    lg.append("text").attr("x", handleX[i] + 73).attr("y", 2004).attr("dominant-baseline", "central")
        .attr("font-size", 25).attr("fill", "#000").text(name);
});
</script>
</body>
</html>
